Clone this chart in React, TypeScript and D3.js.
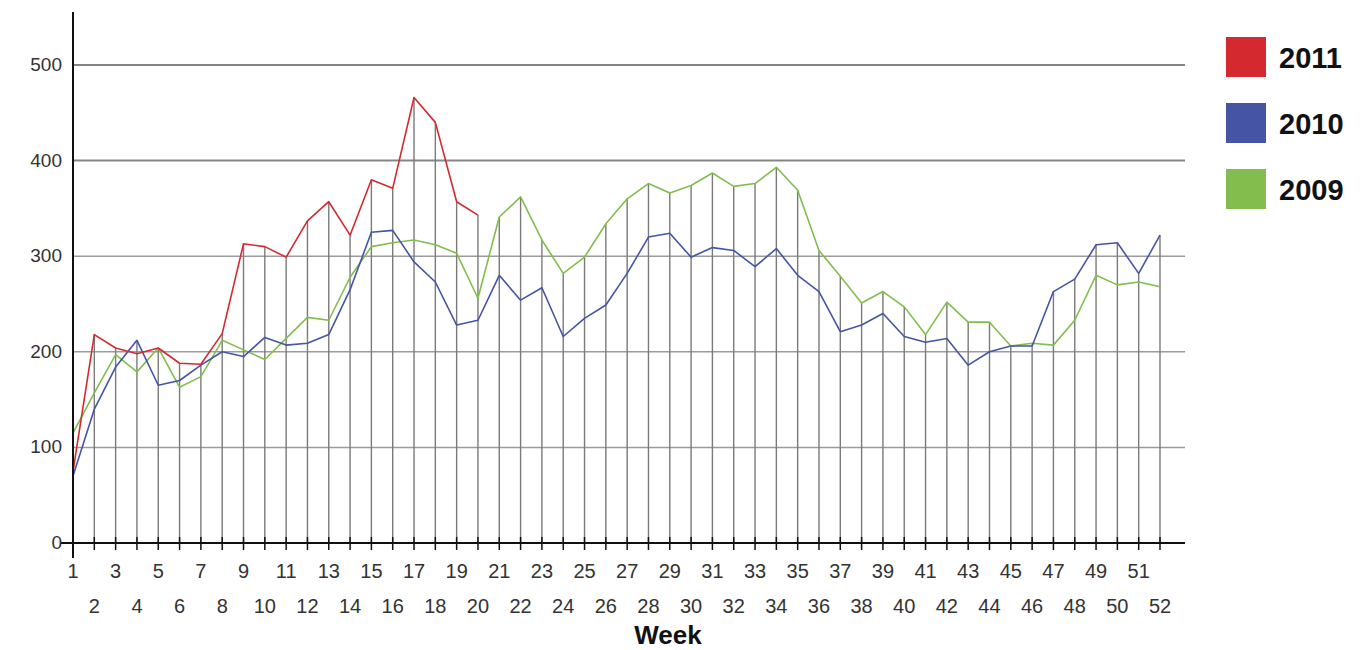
import React from 'react';
import * as d3 from 'd3';

// weekly values
const weeks = d3.range(1, 53);
const series2011 = [75, 218, 204, 198, 204, 188, 187, 219, 313, 310, 299, 337, 357, 322, 380, 371, 466, 440, 357, 343];
const series2010 = [70, 140, 184, 212, 165, 170, 186, 200, 195, 215, 207, 209, 218, 265, 325, 327, 294, 273, 228, 233,
  280, 254, 267, 216, 235, 249, 282, 320, 324, 299, 309, 306, 289, 308, 280, 263, 221, 228, 240, 216,
  210, 214, 186, 200, 206, 206, 263, 276, 312, 314, 282, 322];
const series2009 = [115, 157, 197, 179, 204, 163, 174, 212, 202, 192, 214, 236, 233, 278, 310, 314, 317, 312, 303, 256,
  341, 362, 317, 282, 299, 334, 360, 376, 366, 374, 387, 373, 376, 393, 369, 306, 279, 251, 263, 247,
  218, 252, 231, 231, 206, 209, 207, 233, 280, 270, 273, 268];
const yTicks = [0, 100, 200, 300, 400, 500];

const seriesList = [
  { label: '2011', color: '#d42a2f', values: series2011 },
  { label: '2010', color: '#4654a6', values: series2010 },
  { label: '2009', color: '#82bd4e', values: series2009 },
];

const W = 1367;
const H = 650;

const App = () => {
  const x = d3.scaleLinear().domain([1, 52]).range([73, 1160]);
  const y = d3.scaleLinear().domain([0, 500]).range([543, 65]);

  // highest value per week, for the drop lines
  const tops = weeks.map((w, i) => d3.max(seriesList, s => s.values[i]) || 0);

  const line = d3
    .line<number>()
    .x((d, i) => x(weeks[i]))
    .y(d => y(d));

  const font = '"Liberation Sans", Arial, sans-serif';

  return (
    <svg width={W} height={H} style={{ position: 'absolute', left: 0, top: 0, background: '#fff' }}>
      {/* horizontal grid */}
      {yTicks.filter(t => t > 0).map(t => (
        <line key={t} x1={x(1)} x2={1185} y1={y(t)} y2={y(t)} stroke={t >= 400 ? '#858585' : '#9c9c9c'} strokeWidth={t >= 400 ? 2 : 1.5} />
      ))}

      {/* drop lines */}
      {weeks.map((w, i) => (
        <line key={w} x1={x(w)} x2={x(w)} y1={y(0)} y2={y(tops[i])} stroke="#7a7a7a" strokeWidth={1.4} />
      ))}

      {/* series lines */}
      {seriesList.slice().reverse().map(s => (
        <path key={s.label} d={line(s.values) || ''} fill="none" stroke={s.color} strokeWidth={1.6} strokeLinejoin="round" />
      ))}

      {/* axes */}
      <line x1={73} x2={73} y1={12} y2={558} stroke="#111" strokeWidth={2} />
      <line x1={60} x2={1185} y1={y(0)} y2={y(0)} stroke="#111" strokeWidth={2} />
      {weeks.map(w => (
        <line key={w} x1={x(w)} x2={x(w)} y1={y(0) - 6} y2={y(0) + 7} stroke="#111" strokeWidth={1.5} />
      ))}

      {/* y tick labels */}
      {yTicks.map(t => (
        <text key={t} x={62} y={y(t)} dy="0.32em" textAnchor="end" fontFamily={font} fontSize={19} fill="#333">
          {t}
        </text>
      ))}

      {/* x tick labels, odd weeks on the first row, even on the second */}
      {weeks.map(w => (
        <text
          key={w}
          x={x(w)}
          y={w % 2 === 1 ? 578 : 613}
          textAnchor="middle"
          fontFamily={font}
          fontSize={20}
          fill="#333"
        >
          {w}
        </text>
      ))}
      <text x={668} y={644} textAnchor="middle" fontFamily={font} fontSize={26} fontWeight="bold" fill="#111">
        Week
      </text>

      {/* legend */}
      {seriesList.map((s, i) => (
        <g key={s.label} transform={`translate(1226,${37 + i * 66})`}>
          <rect width={40} height={40} fill={s.color} />
          <text x={53} y={21} dy="0.35em" fontFamily={font} fontSize={29} fontWeight="bold" fill="#111">
            {s.label}
          </text>
        </g>
      ))}
    </svg>
  );
};

export default App;
